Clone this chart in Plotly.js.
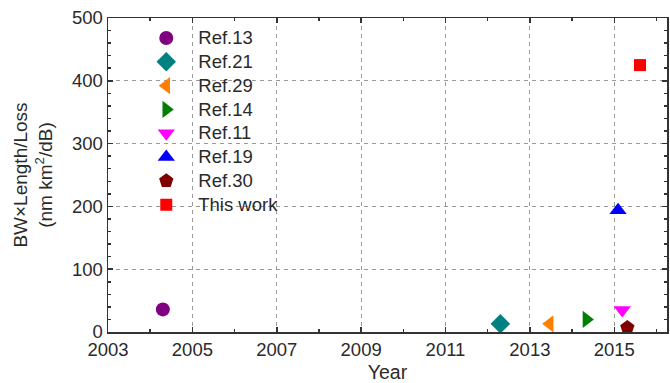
<!DOCTYPE html>
<html>
<head>
<meta charset="utf-8">
<script src="https://cdn.plot.ly/plotly-3.0.1.min.js"></script>
<style>html,body{margin:0;padding:0;background:#fff}#chart{width:670px;height:383px}</style>
</head>
<body>
<div id="chart"></div>
<script>
// Data
const seriesNames = ["Ref.13", "Ref.21", "Ref.29", "Ref.14", "Ref.11", "Ref.19", "Ref.30", "This work"];
const years = [2004.3, 2012.3, 2013.47, 2014.34, 2015.19, 2015.09, 2015.31, 2015.61];
const values = [36, 13, 13, 20, 35, 194, 7, 425];
const xTickVals = [2003, 2005, 2007, 2009, 2011, 2013, 2015];
const yTickVals = [0, 100, 200, 300, 400, 500];

// Styles (separate from data)
const symbols = ["circle", "diamond", "triangle-left", "triangle-right", "triangle-down", "triangle-up", "pentagon", "square"];
const colors = ["#800080", "#008080", "#FF8000", "#008000", "#FF00FF", "#0000FF", "#800000", "#FF0000"];
const sizes = [14, 15, 15, 15, 15, 15, 15, 12];

const traces = seriesNames.map((n, i) => ({
  type: "scatter",
  mode: "markers",
  name: '<span style="font-size:18.5px">' + n + '</span>',
  x: [years[i]],
  y: [values[i]],
  marker: {symbol: symbols[i], color: colors[i], size: sizes[i], line: {width: 0}}
}));

const fam = "Liberation Sans, Arial, sans-serif";
const txt = "#2a2a2a";

const layout = {
  width: 670, height: 383,
  margin: {l: 108, r: 3, t: 18, b: 51},
  paper_bgcolor: "#fff", plot_bgcolor: "#fff",
  font: {family: fam, size: 18, color: txt},
  showlegend: true,
  legend: {
    x: 0.047, y: 0.99, xanchor: "left", yanchor: "top",
    bgcolor: "rgba(0,0,0,0)", borderwidth: 0,
    font: {family: fam, size: 16, color: txt},
    itemwidth: 54, tracegroupgap: 0
  },
  xaxis: {
    range: [2003, 2016.25],
    tickvals: xTickVals, ticktext: xTickVals.map(String),
    ticks: "inside", ticklen: 5, tickcolor: "#333", tickwidth: 1.5,
    minor: {dtick: 1, tick0: 2003, ticks: "inside", ticklen: 3, tickcolor: "#333", showgrid: false},
    showline: true, linecolor: "#333", linewidth: 1.5, mirror: "ticks",
    showgrid: true, gridcolor: "#9a9a9a", griddash: "4px,4px", gridwidth: 1,
    zeroline: false,
    tickfont: {family: fam, size: 18.5, color: txt},
    title: {text: "Year", font: {family: fam, size: 19.5, color: txt}, standoff: 9}
  },
  yaxis: {
    range: [0, 500],
    tickvals: yTickVals, ticktext: yTickVals.map(String),
    ticks: "inside", ticklen: 5, tickcolor: "#333", tickwidth: 1.5,
    minor: {dtick: 20, tick0: 0, ticks: "inside", ticklen: 3, tickcolor: "#333", showgrid: false},
    showline: true, linecolor: "#333", linewidth: 1.5, mirror: "ticks",
    showgrid: true, gridcolor: "#9a9a9a", griddash: "4px,4px", gridwidth: 1,
    zeroline: false,
    tickfont: {family: fam, size: 18.5, color: txt},
    title: {text: "BW×Length/Loss<br>(nm km<sup>2</sup>/dB)", font: {family: fam, size: 19, color: txt}, standoff: 14}
  }
};

Plotly.newPlot("chart", traces, layout, {displayModeBar: false, staticPlot: true});
</script>
</body>
</html>
